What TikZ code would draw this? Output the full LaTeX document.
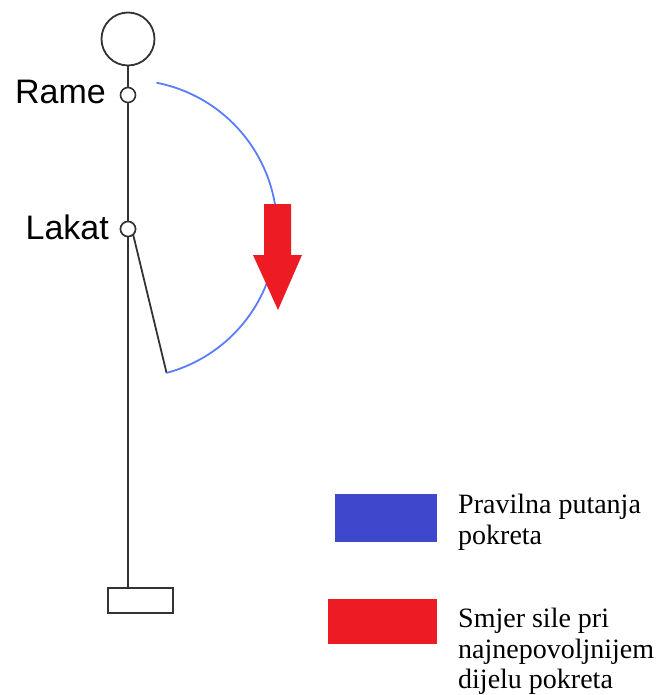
\documentclass[tikz,border=0pt]{standalone}
\usepackage{fontspec}
\usetikzlibrary{calc}
\setmainfont{Liberation Serif}
\newfontfamily\labelfont{Liberation Sans}
\definecolor{bodygray}{HTML}{333333}
\definecolor{pathblue}{HTML}{5A7DFF}
\definecolor{legblue}{HTML}{3F48CC}
\definecolor{forcered}{HTML}{ED1C24}
\tikzset{
  bodyline/.style={draw=bodygray, line width=1.8pt},
  jointc/.style={circle, draw=bodygray, line width=1.6pt, fill=white, minimum size=15pt, inner sep=0pt},
  jlabel/.style={font=\labelfont\fontsize{34}{38}\selectfont, text=black, inner sep=0pt},
  legtext/.style={font=\fontsize{28}{30.5}\selectfont, align=left, inner sep=0pt, anchor=north west}
}
\begin{document}
\begin{tikzpicture}[x=1pt, y=-1pt]
\useasboundingbox (0,0) rectangle (657,695);
% body
\node[circle, draw=bodygray, line width=1.8pt, minimum size=53pt, inner sep=0pt] (head) at (128,39) {};
\node[draw=bodygray, line width=2pt, minimum width=65pt, minimum height=25pt, inner sep=0pt] (weight) at (140.5,600.5) {};
\draw[bodyline] (head.south) -- (weight.north -| head.south);
\node[jointc] (rame) at (128,95) {};
\node[jointc] (lakat) at (128,229) {};
\coordinate (hand) at ($(lakat.center)+(75:149)$);
\draw[bodyline] (lakat.center) ++(-76:8) -- (hand);
\node[jointc] at (lakat) {};
% labels
\node[jlabel, anchor=base east] (ramelbl) at (106,104) {Rame};
\node[jlabel, anchor=base east] (lakatlbl) at (109,239) {Lakat};
% path arc
\draw[pathblue, line width=1.8pt] (lakat.center) ++(-79:149) arc[start angle=-79, end angle=75, radius=149];
% red arrow
\fill[forcered] (264,204) -- (291,204) -- (291,255) -- (302,255) -- (278,310) -- (253,255) -- (264,255) -- cycle;
% legend
\fill[legblue] (335,494) rectangle (437,542);
\fill[forcered] (328,599) rectangle (437,644);
\node[legtext] (leg1) at (458,494) {Pravilna putanja\\pokreta};
\node[legtext] (leg2) at (458,608) {Smjer sile pri\\najnepovoljnijem\\dijelu pokreta};
\end{tikzpicture}
\end{document}
